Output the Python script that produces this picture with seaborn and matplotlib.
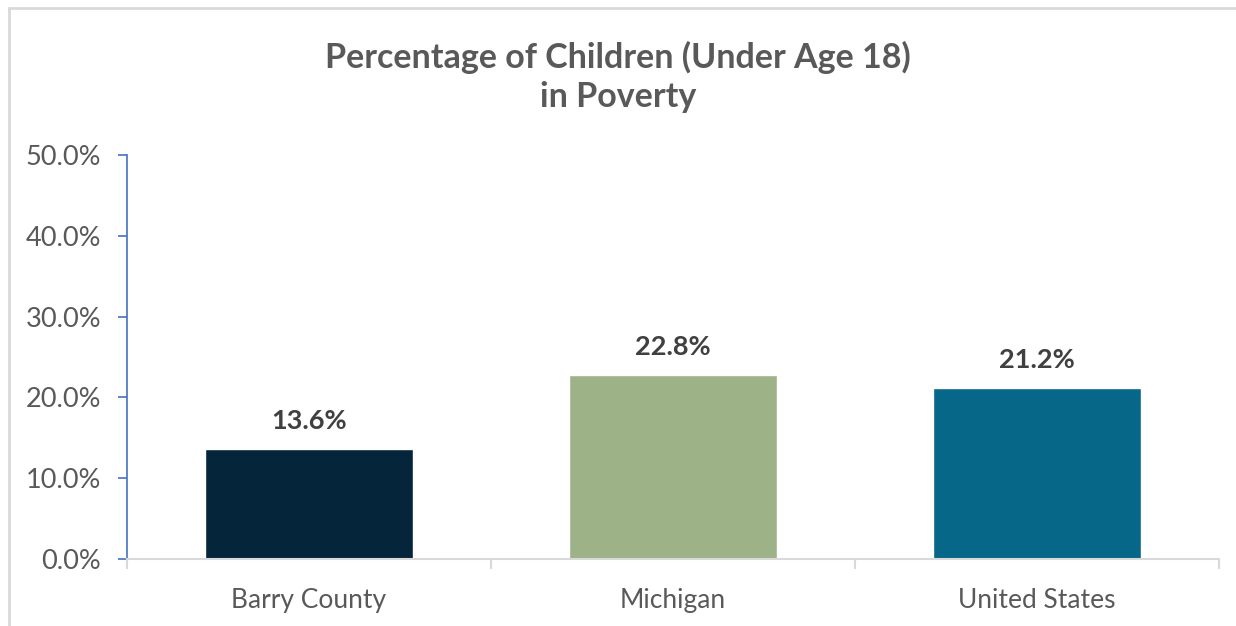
import matplotlib
matplotlib.use("Agg")
import matplotlib.pyplot as plt
import seaborn as sns
import pandas as pd
from matplotlib.lines import Line2D
from matplotlib.ticker import FuncFormatter

categories = ["Barry County", "Michigan", "United States"]
values = [13.6, 22.8, 21.2]
bar_colors = ["#05253A", "#9DB387", "#066789"]
y_ticks = [0, 10, 20, 30, 40, 50]

sns.set_theme(style="white")
plt.rcParams["font.family"] = ["Lato", "DejaVu Sans"]

df = pd.DataFrame({"region": categories, "pct": values})

fig = plt.figure(figsize=(12.36, 6.26), dpi=100)
ax = fig.add_axes([127 / 1236, 1 - 559 / 626, (1219 - 127) / 1236, (559 - 155) / 626])

sns.barplot(data=df, x="region", y="pct", hue="region", palette=bar_colors,
            width=0.57, legend=False, ax=ax, saturation=1)

ax.set_ylim(0, 50)
ax.set_xlim(-0.5, 2.5)
ax.set_yticks(y_ticks)
ax.yaxis.set_major_formatter(FuncFormatter(lambda v, _: f"{v:.1f}%"))
ax.set_xlabel("")
ax.set_ylabel("")

for s in ["top", "right"]:
    ax.spines[s].set_visible(False)
ax.spines["left"].set_color("#4472C4")
ax.spines["left"].set_linewidth(1.2)
ax.spines["bottom"].set_color("#D9D9D9")
ax.spines["bottom"].set_linewidth(1.5)

ax.tick_params(axis="y", which="major", left=True, length=6.5, width=1.2,
               color="#4472C4", labelsize=19.5, labelcolor="#595959", pad=12)
ax.tick_params(axis="x", which="major", bottom=False, labelsize=19,
               labelcolor="#595959", pad=15)
ax.set_xticks([-0.5, 0.5, 1.5, 2.5], minor=True)
ax.tick_params(axis="x", which="minor", bottom=True, length=7, width=1.5,
               color="#D9D9D9")

for i, v in enumerate(values):
    ax.text(i, v + 2.0, f"{v:.1f}%", ha="center", va="bottom",
            fontsize=19.5, fontweight="bold", color="#404040")

fig.text(0.5, 1 - 77 / 626, "Percentage of Children (Under Age 18)\nin Poverty",
         ha="center", va="center", fontsize=24.5, fontweight="bold",
         color="#595959", linespacing=1.3)

# chart-area frame
frame = dict(color="#D9D9D9", linewidth=2, transform=fig.transFigure)
fig.add_artist(Line2D([8.5 / 1236, 8.5 / 1236], [0, 1 - 7.5 / 626], **frame))
fig.add_artist(Line2D([8.5 / 1236, 1], [1 - 7.5 / 626, 1 - 7.5 / 626], **frame))

fig.savefig("out.png", dpi=100, facecolor="white")
